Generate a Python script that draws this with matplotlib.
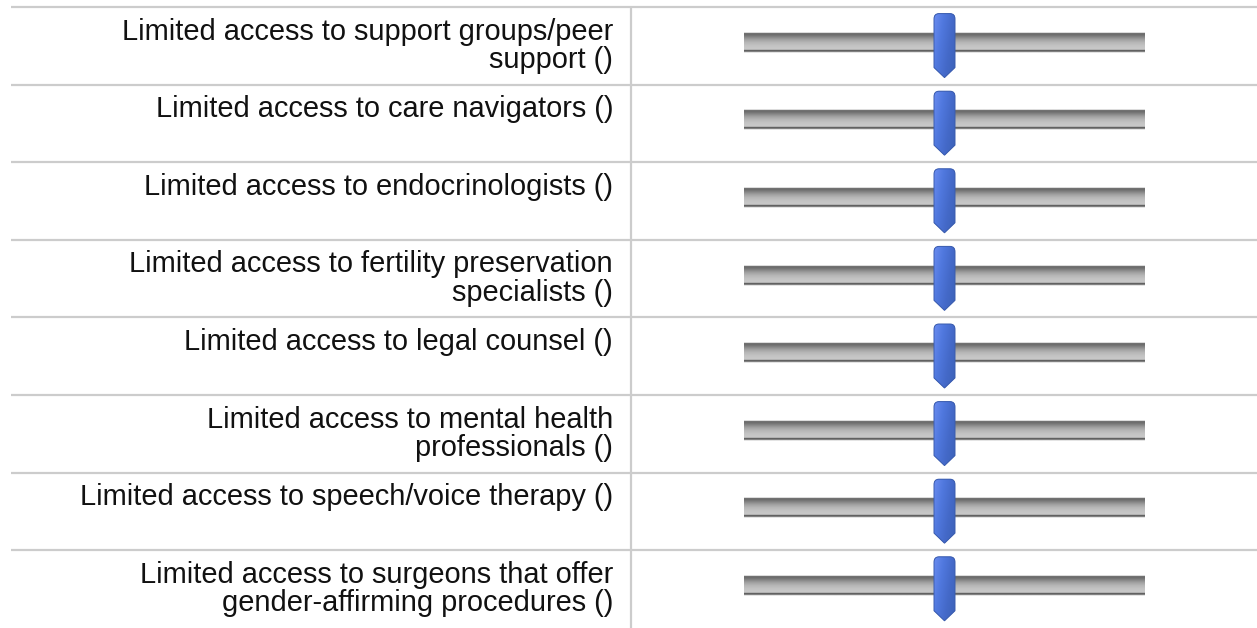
import numpy as np
import matplotlib.pyplot as plt
from matplotlib.patches import PathPatch
from matplotlib.path import Path
from matplotlib.colors import LinearSegmentedColormap

labels = [
    "Limited access to support groups/peer\nsupport ()",
    "Limited access to care navigators ()",
    "Limited access to endocrinologists ()",
    "Limited access to fertility preservation\nspecialists ()",
    "Limited access to legal counsel ()",
    "Limited access to mental health\nprofessionals ()",
    "Limited access to speech/voice therapy ()",
    "Limited access to surgeons that offer\ngender-affirming procedures ()",
]
values = [50, 50, 50, 50, 50, 50, 50, 50]
vmin, vmax = 0, 100

W, H = 1257, 628
plt.rcParams['font.family'] = ['Liberation Sans', 'DejaVu Sans']
fig = plt.figure(figsize=(W / 100, H / 100), dpi=100)

# full-figure axes in pixel units for the table grid
ax = fig.add_axes([0, 0, 1, 1])
ax.set_xlim(0, W)
ax.set_ylim(H, 0)
ax.axis('off')

top = 7
row_h = 77.6
n = len(labels)
grid_col = '#cccccc'
for i in range(n):
    y = top + i * row_h
    ax.plot([11, W], [y, y], color=grid_col, lw=1.6, solid_capstyle='butt')
ax.plot([631, 631], [top, H], color=grid_col, lw=1.6, solid_capstyle='butt')

for i, lab in enumerate(labels):
    ax.text(613, top + i * row_h + 10.5, lab, ha='right', va='top',
            fontsize=20.9, color='#111111', linespacing=1.02)

# slider axes: x in value units, y in row units
x0, x1 = 744, 1145
sax = fig.add_axes([x0 / W, 0, (x1 - x0) / W, 1])
sax.axis('off')

track_cols = ['#dcdcdc', '#6a6a6a', '#6e6e6e', '#777777', '#838383', '#8f8f8f',
              '#9a9a9a', '#a4a4a4', '#acacac', '#b3b3b3', '#b9b9b9', '#bdbdbd',
              '#c1c1c1', '#c4c4c4', '#c6c6c6', '#c8c8c8', '#c4c4c4', '#5e5e5e',
              '#7a7a7a', '#e4e4e4']
track_img = np.array([[int(c[1:3], 16)] * 3 for c in track_cols]) / 255.0
track_img = track_img[:, None, :]

blue = LinearSegmentedColormap.from_list('b', ['#6a8cf0', '#5078de', '#4469c8', '#3c62b8'])
gx = np.linspace(0, 1, 40)
gy = np.linspace(0, 1, 60)
grad = 0.75 * gx[None, :] + 0.35 * gy[:, None]

xpix = (vmax - vmin) / (x1 - x0)   # value units per pixel
for i, v in enumerate(values):
    # track
    sax.imshow(track_img, extent=[vmin, vmax, i + 0.59, i + 0.33],
               aspect='auto', interpolation='bilinear', zorder=1)
    # thumb
    hw = 10.5 * xpix
    t_top, t_mid, t_tip = i + 0.085, i + 0.78, i + 0.91
    r = 5 * xpix
    verts = [(v - hw, t_mid), (v - hw, t_top + 0.07), (v - hw, t_top),
             (v - hw + r, t_top), (v + hw - r, t_top), (v + hw, t_top),
             (v + hw, t_top + 0.07), (v + hw, t_mid), (v, t_tip), (v - hw, t_mid)]
    codes = [Path.MOVETO, Path.LINETO, Path.CURVE3, Path.CURVE3, Path.LINETO,
             Path.CURVE3, Path.CURVE3, Path.LINETO, Path.LINETO, Path.CLOSEPOLY]
    path = Path(verts, codes)
    body = PathPatch(path, facecolor='#4a6fd4', edgecolor='none', zorder=2)
    sax.add_patch(body)
    im = sax.imshow(grad, extent=[v - hw, v + hw, t_tip, t_top], cmap=blue,
                    aspect='auto', interpolation='bilinear', zorder=3)
    im.set_clip_path(body)
    sax.add_patch(PathPatch(path, facecolor='none', edgecolor='#3a5cae', lw=0.7, zorder=4))

sax.set_xlim(vmin, vmax)
sax.set_ylim((H - top) / row_h, -top / row_h)

fig.savefig('out.png', dpi=100)
